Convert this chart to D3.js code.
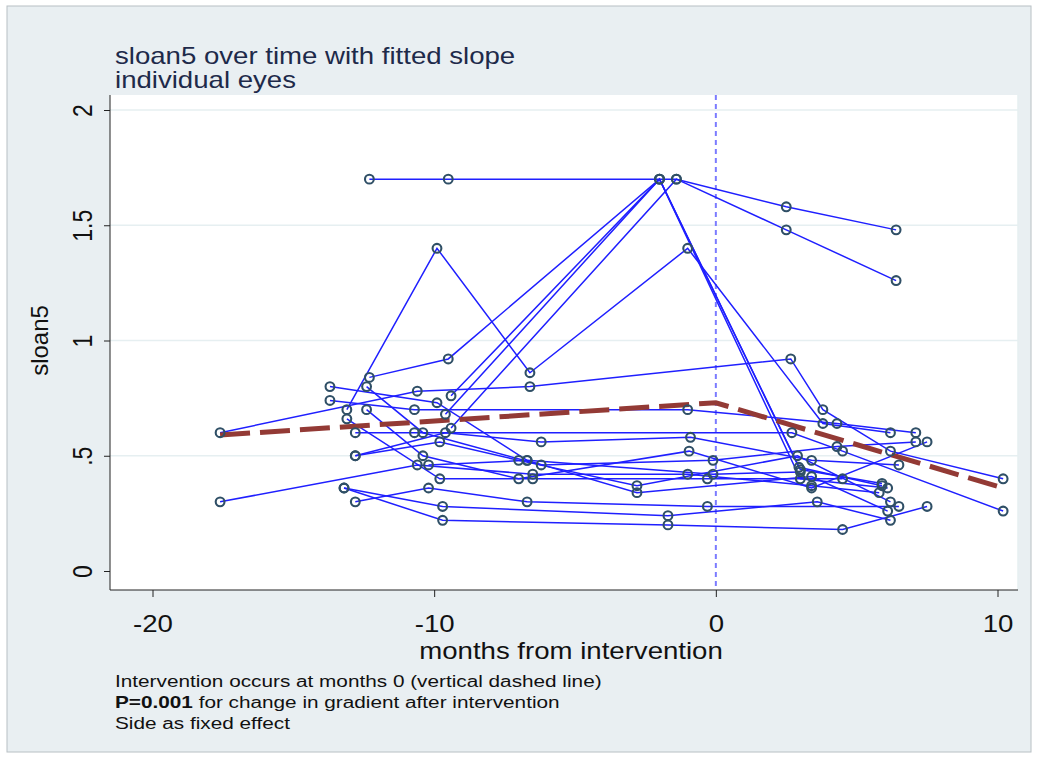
<!DOCTYPE html>
<html><head><meta charset="utf-8">
<script src="https://cdn.jsdelivr.net/npm/d3@7"></script>
<style>body{margin:0;background:#fff}svg{display:block;font-family:"Liberation Sans",Arial,sans-serif}</style>
</head><body><svg id="c" width="1038" height="760"></svg>
<script>
// Individual eyes: months from intervention and sloan5 values
const eyeMonths = [
  [-12.3,-9.5,-1.4,2.5,6.4],
  [-12.3,-9.5,-2.0,3.0,5.9],
  [-13.1,-9.9,-6.6,-1.0,3.8,6.2],
  [-17.6,-10.6,-6.6,2.66,3.8,6.2,10.2],
  [-9.4,-2.0,2.95,5.9],
  [-9.6,-2.0,3.0,6.1],
  [-9.4,-1.4,2.5,6.4],
  [-17.6,-10.6,-6.5,-1.0,3.4,5.8],
  [-13.2,-9.7,-1.7,3.6,6.2],
  [-13.2,-9.7,-1.7,4.5,7.5],
  [-12.8,-10.2,-6.7,-0.3,6.5],
  [-12.8,-9.6,-6.2,-0.9,3.4,6.5],
  [-12.8,-9.8,-7.0,-2.8,2.9,6.2],
  [-12.8,-10.7,2.7,4.5,10.2],
  [-13.7,-9.9,-6.7,-2.8,3.4,6.1],
  [-13.7,-10.7,-1.0,4.3,7.1],
  [-12.4,-10.4,-6.2,-0.1,4.3,7.1],
  [-12.4,-10.4,-7.0,-0.95,3.4,7.5],
  [-13.1,-9.8,-6.5,-0.3,4.5],
  [-10.2,-6.7,-0.1,3.0]
];
const eyeSloan = [
  [1.70,1.70,1.70,1.58,1.48],
  [0.84,0.92,1.70,0.44,0.38],
  [0.70,1.40,0.86,1.40,0.64,0.60],
  [0.60,0.78,0.80,0.92,0.70,0.52,0.40],
  [0.76,1.70,0.45,0.37],
  [0.68,1.70,0.40,0.36],
  [0.62,1.70,1.48,1.26],
  [0.30,0.46,0.42,0.42,0.37,0.34],
  [0.36,0.28,0.24,0.30,0.22],
  [0.36,0.22,0.20,0.18,0.28],
  [0.30,0.36,0.30,0.28,0.28],
  [0.50,0.60,0.56,0.58,0.48,0.46],
  [0.50,0.56,0.48,0.37,0.50,0.30],
  [0.60,0.60,0.60,0.52,0.26],
  [0.80,0.73,0.48,0.34,0.41,0.26],
  [0.74,0.70,0.70,0.64,0.60],
  [0.80,0.60,0.46,0.48,0.54,0.56],
  [0.70,0.50,0.40,0.52,0.36,0.56],
  [0.66,0.40,0.40,0.40,0.40],
  [0.46,0.48,0.42,0.43]
];
// Fitted slope (piecewise, change at month 0)
const fitMonths = [-17.6, 0, 10.2];
const fitSloan = [0.59, 0.73, 0.36];
const xTicks = [-20, -10, 0, 10];
const yTicks = [0, 0.5, 1, 1.5, 2];
const yTickLabels = ["0", ".5", "1", "1.5", "2"];
const titleLines = ["sloan5 over time with fitted slope", "individual eyes"];
const noteLines = ["Intervention occurs at months 0 (vertical dashed line)", "for change in gradient after intervention", "Side as fixed effect"];

const SX = 1.2; // horizontal stretch of the text glyphs
const svg = d3.select("#c");
svg.append("rect").attr("x",7).attr("y",6).attr("width",1024).attr("height",746)
  .attr("fill","#e9eff2").attr("stroke","#b8c0c4").attr("stroke-width",1);

const L = 110, R = 1018, T = 95, B = 590;
svg.append("rect").attr("x",L).attr("y",T).attr("width",R-L).attr("height",B-T).attr("fill","#fff");

const x = d3.scaleLinear().domain([-20, 10]).range([152.5, 997.5]);
const y = d3.scaleLinear().domain([0, 2]).range([571, 110]);

// gridlines
svg.append("g").selectAll("line").data(yTicks.filter(d=>d>0)).join("line")
  .attr("x1",L).attr("x2",R).attr("y1",d=>y(d)).attr("y2",d=>y(d))
  .attr("stroke","#e6eff1").attr("stroke-width",1.5);
svg.append("line").attr("x1",R).attr("x2",R).attr("y1",T).attr("y2",B).attr("stroke","#e6eff1").attr("stroke-width",1.5);

// axes
const yAxis = d3.axisLeft(y).tickValues(yTicks).tickFormat((d,i)=>yTickLabels[i]).tickSize(6);
const gy = svg.append("g").attr("transform",`translate(${L},0)`).call(yAxis);
gy.attr("font-family",null);
gy.select(".domain").attr("d",`M0,${T}V${B}`).attr("stroke","#222");
gy.selectAll(".tick line").attr("stroke","#222");
gy.selectAll(".tick text").attr("font-size",23).attr("fill","#111")
  .attr("x",0).attr("y",0).attr("dy","0").attr("text-anchor","middle")
  .attr("transform",`translate(-18,0) scale(${SX},1) rotate(-90)`);

const xAxis = d3.axisBottom(x).tickValues(xTicks).tickSize(7).tickPadding(0);
const gx = svg.append("g").attr("transform",`translate(0,${B})`).call(xAxis);
gx.attr("font-family",null);
gx.select(".domain").attr("d",`M${L},0H${R}`).attr("stroke","#222");
gx.selectAll(".tick line").attr("stroke","#222");
gx.selectAll(".tick text").attr("font-size",23).attr("fill","#111").attr("dy","0").attr("y",0)
  .attr("transform",`translate(0,42) scale(${SX},1)`)
  .text(d=>d<0?"-"+Math.abs(d):d);

// vertical dashed line at intervention
svg.append("line").attr("x1",x(0)).attr("x2",x(0)).attr("y1",T).attr("y2",B)
  .attr("stroke","#7b7bff").attr("stroke-width",2).attr("stroke-dasharray","5,4");

// eyes
const line = d3.line().x(d=>x(d[0])).y(d=>y(d[1]));
const eyes = eyeMonths.map((ms,i)=>ms.map((m,j)=>[m, eyeSloan[i][j]]));
svg.append("g").selectAll("path").data(eyes).join("path")
  .attr("d",line).attr("fill","none").attr("stroke","#1f1fff").attr("stroke-width",1.5);

// fitted slope
const fit = fitMonths.map((m,i)=>[m, fitSloan[i]]);
svg.append("path").attr("d",line(fit)).attr("fill","none").attr("stroke","#933a35")
  .attr("stroke-width",5).attr("stroke-dasharray","30,10");

// markers
svg.append("g").selectAll("circle").data(eyes.flat()).join("circle")
  .attr("cx",d=>x(d[0])).attr("cy",d=>y(d[1])).attr("r",4.4)
  .attr("fill","none").attr("stroke","#2f4f66").attr("stroke-width",2.1);

// helper for stretched text
function stext(px, py, size, opts={}) {
  return svg.append("text").attr("transform",`translate(${px},${py}) scale(${SX},1)`)
    .attr("font-size",size).attr("fill",opts.fill||"#111")
    .attr("text-anchor",opts.anchor||"start");
}
titleLines.forEach((s,i)=>stext(115, 64+i*24, 23, {fill:"#1e2a4a"}).text(s));

svg.append("text").attr("transform",`translate(48,${y(1)}) rotate(-90)`).attr("text-anchor","middle")
  .attr("font-size",24).attr("fill","#111").text("sloan5");
stext((L+R)/2+7, 659, 23, {anchor:"middle"}).text("months from intervention");

// notes
stext(115, 687, 17.3).text(noteLines[0]);
const n2 = stext(115, 708, 17.3);
n2.append("tspan").attr("font-weight","bold").text("P=0.001");
n2.append("tspan").text(" " + noteLines[1]);
stext(115, 729, 17.3).text(noteLines[2]);
</script></body></html>
